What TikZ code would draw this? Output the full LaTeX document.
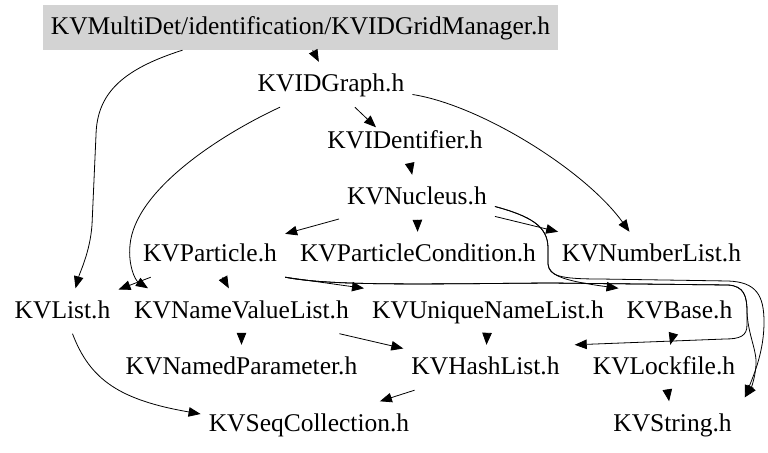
\documentclass[tikz,border=0pt]{standalone}
\usepackage{fontspec}
\setmainfont{Liberation Serif}
\usetikzlibrary{arrows.meta}
\definecolor{hdrgray}{HTML}{D3D3D3}
\begin{document}
\begin{tikzpicture}
[x=1bp,y=-1bp,
file/.style={font=\fontsize{25.5bp}{30bp}\selectfont,inner xsep=8bp,inner ysep=4bp,text height=26bp,text depth=11bp,anchor=base},
mainfile/.style={file,fill=hdrgray},
arr/.style={-{Triangle[length=12bp,width=9.5bp]},line width=0.8bp}]
\useasboundingbox (0,0) rectangle (768,453);
\node [mainfile] (gm) at (300.5,35) {KVMultiDet/identification/KVIDGridManager.h};
\node [file] (graph) at (331,92) {KVIDGraph.h};
\node [file] (ident) at (405,148.5) {KVIDentifier.h};
\node [file] (nucl) at (417,205) {KVNucleus.h};
\node [file] (part) at (210,262) {KVParticle.h};
\node [file] (pcond) at (418,262) {KVParticleCondition.h};
\node [file] (numl) at (651.5,262) {KVNumberList.h};
\node [file] (list) at (62.5,318.5) {KVList.h};
\node [file] (nvl) at (241.5,318.5) {KVNameValueList.h};
\node [file] (unl) at (488,318.5) {KVUniqueNameList.h};
\node [file] (base) at (679.5,318.5) {KVBase.h};
\node [file] (npar) at (241.5,375) {KVNamedParameter.h};
\node [file] (hash) at (485.5,375) {KVHashList.h};
\node [file] (lock) at (664,375) {KVLockfile.h};
\node [file] (seq) at (309,431.5) {KVSeqCollection.h};
\node [file] (str) at (672.5,431.5) {KVString.h};
\draw [arr] (gm) -- (graph);
\draw [arr] ([xshift=-118bp]gm.south) .. controls (120,70) and (97,95) .. (96,135) -- (92,225) .. controls (90,252) and (80,272) .. ([xshift=13bp]list.north);
\draw [arr] (graph) -- ([xshift=-29bp,yshift=-9bp]ident.north);
\draw [arr] ([xshift=-51bp]graph.south) .. controls (220,135) and (135,190) .. (130,245) .. controls (128,265) and (135,280) .. ([xshift=22bp]nvl.north west);
\draw [arr] ([yshift=-10bp]graph.east) .. controls (480,105) and (585,170) .. ([xshift=-22bp]numl.north);
\draw [arr] (ident) -- (nucl);
\draw [arr] (nucl) -- (part);
\draw [arr] (nucl) -- (pcond);
\draw [arr] (nucl) -- (numl);
\draw [arr] ([yshift=-9bp]nucl.east) .. controls (530,216) and (548,226) .. (548,248) -- (548,264) .. controls (549,276) and (565,281) .. (base.north west);
\draw [arr] ([yshift=-9bp]nucl.east) .. controls (530,216) and (548,226) .. (548,248) -- (548,264) .. controls (549,276) and (560,279) .. (600,279) -- (728,281) .. controls (756,282) and (764,295) .. (764,322) .. controls (764,350) and (755,372) .. ([xshift=5bp,yshift=4bp]str.north east);
\draw [arr] (part) -- (list);
\draw [arr] (part) -- (nvl);
\draw [arr] (part.south east) -- (unl.north west);
\draw [arr] (part.south east) .. controls (330,286) and (420,284) .. (550,283) -- (728,285) .. controls (744,286) and (747,296) .. (747,312) -- (747,325) .. controls (747,336) and (740,339) .. (725,339) -- ([xshift=7bp]hash.north east);
\draw [arr] (part.south east) .. controls (330,286) and (420,284) .. (550,283) -- (728,285) .. controls (744,286) and (747,296) .. (747,312) .. controls (748,335) and (757,350) .. (756,365) .. controls (755,380) and (750,390) .. ([xshift=5bp,yshift=4bp]str.north east);
\draw [arr] (nvl) -- (npar);
\draw [arr] (nvl) -- (hash);
\draw [arr] (unl) -- (hash);
\draw [arr] (base) -- (lock);
\draw [arr] (lock) -- (str);
\draw [arr] (hash) -- (seq);
\draw [arr] ([xshift=10bp]list.south) .. controls (90,380) and (120,400) .. ([yshift=10bp]seq.west);
\end{tikzpicture}
\end{document}
